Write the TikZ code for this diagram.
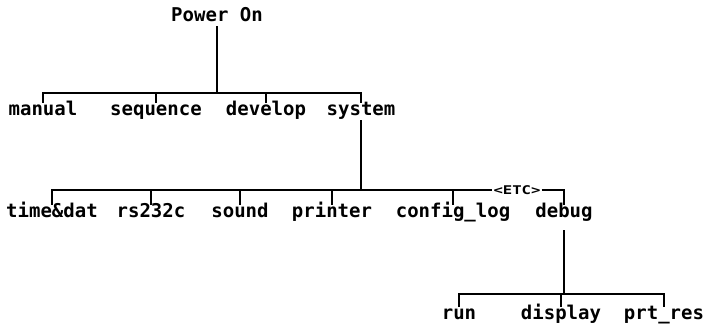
\documentclass[tikz,border=0pt]{standalone}
\usepackage{fontspec}
\newfontfamily\plotfont{DejaVu Sans Mono}
\tikzset{
  lbl/.style={font=\plotfont\bfseries\fontsize{19}{19}\selectfont, anchor=base, inner xsep=0pt, inner ysep=1pt, text height=11pt, text depth=4pt},
  small/.style={font=\plotfont\bfseries\fontsize{12}{12}\selectfont, inner sep=1pt},
  edge/.style={line width=2.8pt, line cap=butt, line join=miter}
}
\begin{document}
\begin{tikzpicture}[x=1pt,y=-1pt]
\useasboundingbox (0,0) rectangle (708,330);
% level 0
\node[lbl] (power) at (217,21) {Power On};
% level 1
\node[lbl] (manual)   at (43,115)  {manual};
\node[lbl] (sequence) at (156,115) {sequence};
\node[lbl] (develop)  at (266,115) {develop};
\node[lbl] (system)   at (361,115) {system};
% level 2
\node[lbl] (timedat)  at (52,217)  {time\&dat};
\node[lbl] (rs)       at (151,217) {rs232c};
\node[lbl] (sound)    at (240,217) {sound};
\node[lbl] (printer)  at (332,217) {printer};
\node[lbl] (config)   at (453,217) {config\_log};
\node[lbl] (debug)    at (564,217) {debug};
\node[small] (etc)    at (517,190) {\scalebox{1.3}[1]{<ETC>}};
% level 3
\node[lbl] (run)      at (459,319) {run};
\node[lbl] (display)  at (561,319) {display};
\node[lbl] (prt)      at (664,319) {prt\_res};
% connectors level 0-1
\coordinate (j1) at (power.south |- 0,93);
\draw[edge] (power.south) -- (j1);
\draw[edge] (manual.north) -- (manual.north |- j1) -- (system.north |- j1) -- (system.north);
\draw[edge] (sequence.north) -- (sequence.north |- j1);
\draw[edge] (develop.north) -- (develop.north |- j1);
% connectors level 1-2
\coordinate (j2) at (system.south |- 0,190);
\draw[edge] (system.south) -- (j2);
\draw[edge] (timedat.north) -- (timedat.north |- j2) -- (etc.west);
\draw[edge] (etc.east) -- (debug.north |- j2) -- (debug.north);
\draw[edge] (rs.north) -- (rs.north |- j2);
\draw[edge] (sound.north) -- (sound.north |- j2);
\draw[edge] (printer.north) -- (printer.north |- j2);
\draw[edge] (config.north) -- (config.north |- j2);
% connectors level 2-3
\coordinate (j3) at (debug.south |- 0,294);
\draw[edge] ([yshift=-8pt]debug.south) -- (j3);
\draw[edge] (run.north) -- (run.north |- j3) -- (prt.north |- j3) -- (prt.north);
\draw[edge] (display.north) -- (display.north |- j3);
\end{tikzpicture}
\end{document}
